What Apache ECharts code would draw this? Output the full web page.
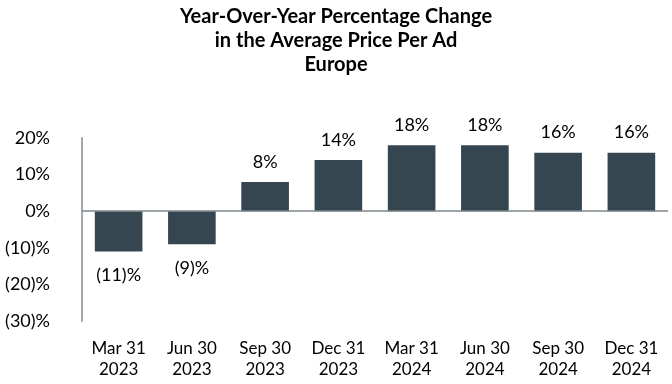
<!DOCTYPE html>
<html>
<head>
<meta charset="utf-8">
<script src="https://cdn.jsdelivr.net/npm/echarts@6/dist/echarts.min.js"></script>
<style>html,body{margin:0;padding:0;background:#fff}#c{width:672px;height:384px}</style>
</head>
<body>
<div id="c"></div>
<script>
var titleLines = ['Year-Over-Year Percentage Change', 'in the Average Price Per Ad', 'Europe'];
var categories = ['Mar 31\n2023', 'Jun 30\n2023', 'Sep 30\n2023', 'Dec 31\n2023', 'Mar 31\n2024', 'Jun 30\n2024', 'Sep 30\n2024', 'Dec 31\n2024'];
var values = [-11, -9, 8, 14, 18, 18, 16, 16];
var yMin = -30, yMax = 20, yStep = 10;

function pct(v) { return v < 0 ? '(' + Math.abs(v) + ')%' : v + '%'; }

var FONT = 'Lato';
var chart = echarts.init(document.getElementById('c'), null, {renderer: 'canvas'});
chart.setOption({
  animation: false,
  title: {
    text: titleLines.join('\n'),
    left: 'center',
    top: 0,
    textStyle: {fontFamily: FONT, fontWeight: 'bold', fontSize: 20, lineHeight: 24, color: '#000'}
  },
  grid: {left: 82, right: 4, top: 138, bottom: 63, containLabel: false},
  xAxis: {
    type: 'category',
    data: categories,
    axisLine: {show: false, onZero: false},
    axisTick: {show: false},
    axisLabel: {fontFamily: FONT, fontSize: 17, lineHeight: 21, color: '#000', margin: 17, interval: 0}
  },
  yAxis: {
    type: 'value',
    min: yMin, max: yMax, interval: yStep,
    axisLine: {show: true, lineStyle: {color: '#a6a6a6', width: 2}},
    axisTick: {show: false},
    splitLine: {show: false},
    axisLabel: {fontFamily: FONT, fontSize: 18, color: '#000', margin: 32, formatter: pct}
  },
  series: [{
    type: 'bar',
    barWidth: '65%',
    itemStyle: {color: '#364651'},
    data: values.map(function (v) {
      return {
        value: v,
        label: {show: true, position: v < 0 ? 'bottom' : 'top', distance: v < 0 ? 15 : 11}
      };
    }),
    label: {fontFamily: FONT, fontSize: 18, color: '#000', formatter: function (p) { return pct(p.value); }},
    markLine: {
      silent: true, symbol: 'none', label: {show: false},
      lineStyle: {color: '#7c878d', width: 1.5, type: 'solid'},
      data: [{yAxis: 0}]
    }
  }]
});
</script>
</body>
</html>
